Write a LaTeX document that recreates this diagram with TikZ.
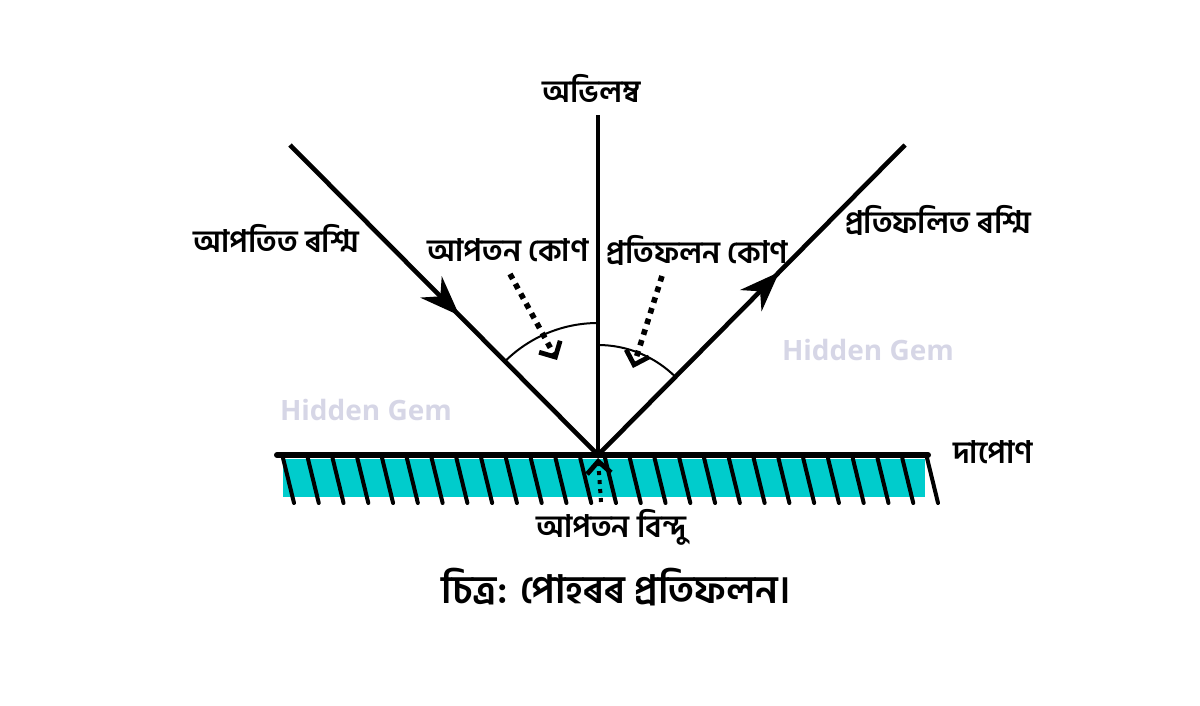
\documentclass[tikz,border=0pt]{standalone}
\usepackage{fontspec}
\newfontfamily\bnfont[Script=Bengali]{Hind Siliguri}
\setsansfont{Open Sans}
\usetikzlibrary{arrows.meta,decorations.markings}
\definecolor{mirrorcyan}{RGB}{0,204,204}
\definecolor{gemgrey}{RGB}{214,214,230}
\tikzset{
  lbl/.style={font=\bnfont\bfseries\fontsize{15.5}{18}\selectfont, inner sep=1pt},
  captionlbl/.style={font=\bnfont\bfseries\fontsize{19.5}{23}\selectfont, inner sep=1pt},
  watermark/.style={font=\sffamily\bfseries\fontsize{14}{16}\selectfont, text=gemgrey, inner sep=1pt},
  ray/.style={line width=2.3pt},
  midarrow/.style={postaction={decorate}, decoration={markings,
    mark=at position #1 with {\arrow{Stealth[length=20pt,width=15pt]}}}},
  pointer/.style={line width=2.8pt, dash pattern=on 2.8pt off 2.8pt,
    -{Straight Barb[length=6pt,width=12pt,line width=2.4pt]}},
  anglearc/.style={line width=1pt}
}
\begin{document}
\begin{tikzpicture}[x=0.5pt,y=-0.5pt]
\useasboundingbox (0,0) rectangle (1200,706);
\coordinate (p) at (598,455);
\coordinate (ntop) at (598,115);
\coordinate (istart) at (290,145);
\coordinate (rend) at (905,145);
\coordinate (mleft) at (277,455);
\coordinate (mright) at (928,455);

% mirror
\fill[mirrorcyan] (283,459) rectangle (925,497);
\foreach \i in {0,...,26}
  \draw[line width=2pt, line cap=round] (283+24.77*\i,458) -- ++(11,45);
\draw[line width=3pt, line cap=round] (mleft) -- (mright);

% normal and rays
\draw[ray] (p) -- (ntop);
\draw[ray, midarrow=0.55] (istart) -- (p);
\draw[ray, midarrow=0.59] (p) -- (rend);

% angles
\draw[anglearc] ([shift={(225:132)}]p) arc[start angle=225, end angle=270, radius=132];
\draw[anglearc] ([shift={(270:110)}]p) arc[start angle=270, end angle=315, radius=110];

% labels
\node[lbl] (normlbl) at (592,88) {অভিলম্ব};
\node[lbl] (inclbl) at (276,238) {আপতিত ৰশ্মি};
\node[lbl] (reflbl) at (938,220) {প্ৰতিফলিত ৰশ্মি};
\node[lbl] (iangle) at (508,250) {আপতন কোণ};
\node[lbl] (rangle) at (697,250) {প্ৰতিফলন কোণ};
\node[lbl] (mirrorlbl) at (993,452) {দাপোণ};
\node[lbl] (pointlbl) at (611,527) {আপতন বিন্দু};
\node[captionlbl] (cap) at (616,587) {চিত্ৰ: পোহৰৰ প্ৰতিফলন।};
\node[watermark] (gem1) at (366,410) {Hidden Gem};
\node[watermark] (gem2) at (868,350) {Hidden Gem};

% pointers
\coordinate (itail) at (510,274);
\coordinate (ihead) at (557,360);
\coordinate (rtail) at (662,276);
\coordinate (rhead) at (633,368);
\coordinate (ptail) at (601,502);
\coordinate (phead) at (598,458);
\draw[pointer] (itail) -- (ihead);
\draw[pointer] (rtail) -- (rhead);
\draw[pointer, line width=2pt, dash pattern=on 2pt off 2.5pt] (ptail) -- (phead);
\end{tikzpicture}
\end{document}
